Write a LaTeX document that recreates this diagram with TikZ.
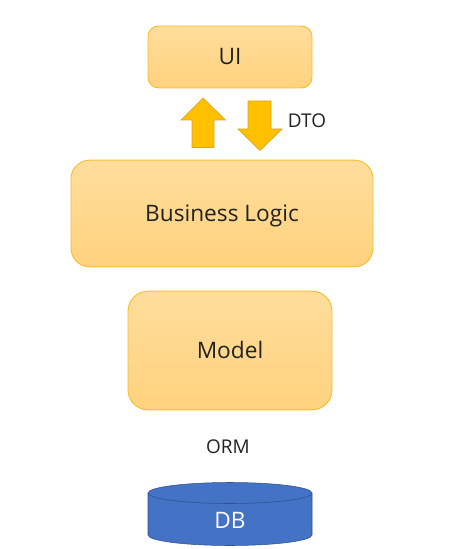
\documentclass[tikz,border=0pt]{standalone}
\usepackage{fontspec}
\setmainfont{Open Sans}
\usetikzlibrary{shapes.geometric}
\definecolor{boxtop}{HTML}{FFDD9C}
\definecolor{boxbot}{HTML}{FFD27E}
\definecolor{boxline}{HTML}{F6C02C}
\definecolor{arrowfill}{HTML}{FFC000}
\definecolor{arrowline}{HTML}{D9A520}
\definecolor{dbfill}{HTML}{4472C4}
\definecolor{dbline}{HTML}{2F528F}
\definecolor{inktext}{HTML}{222222}
\tikzset{
  bigtext/.style={font=\fontsize{17}{20}\selectfont,text height=12pt,text depth=0pt},
  layerbox/.style={draw=boxline,line width=0.7pt,top color=boxtop,bottom color=boxbot,
    text=inktext,inner sep=0pt,anchor=center,bigtext},
  flowarrow/.style={draw=arrowline,fill=arrowfill,line width=0.5pt,line join=miter},
  caption/.style={text=inktext,font=\fontsize{14.2}{16}\selectfont,inner sep=0pt},
}
\begin{document}
\begin{tikzpicture}[x=0.75pt,y=-0.75pt]
\useasboundingbox (0,0) rectangle (469,549);
\fill[white] (0,0) rectangle (469,549);
\node[layerbox,rounded corners=8pt,minimum width=123pt,minimum height=46.5pt] (ui) at (230,57) {UI};
\node[layerbox,rounded corners=14pt,minimum width=226.5pt,minimum height=80pt] (logic) at (222,213.5) {Business Logic};
\node[layerbox,rounded corners=15pt,minimum width=153pt,minimum height=89pt] (model) at (230,350.5) {Model};
\draw[flowarrow] (203,98) -- (225.5,120) -- (214,120) -- (214,147.5) -- (192,147.5) -- (192,120) -- (181,120) -- cycle;
\draw[flowarrow] (248,101) -- (271,101) -- (271,129) -- (282,129) -- (260,150.5) -- (238,129) -- (248,129) -- cycle;
\node[caption] (dto) at (307,120.5) {DTO};
\node[caption] (orm) at (228,447) {ORM};
\draw[dbline,fill=dbfill,line width=0.4pt] (148,493) -- (148,535) arc[start angle=180,end angle=0,x radius=82,y radius=10.5] -- (312,493);
\draw[dbline,fill=dbfill,line width=0.4pt] (230,493) ellipse[x radius=82,y radius=10.5];
\node[text=white,bigtext,inner sep=0pt] (db) at (230,520) {DB};
\end{tikzpicture}
\end{document}
